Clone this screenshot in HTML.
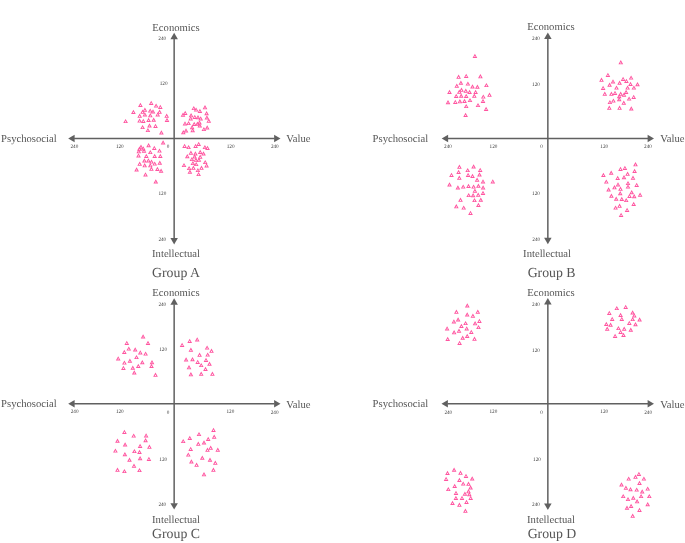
<!DOCTYPE html>
<html><head><meta charset="utf-8"><title>Groups</title>
<style>
html,body{margin:0;padding:0;background:#fff;}
svg{display:block;}
text{font-family:"Liberation Serif",serif;text-rendering:geometricPrecision;}
.l{font-size:10.65px;fill:#555555;}
.g{font-size:13.8px;fill:#555555;}
.t{font-size:5.2px;fill:#3a3a3a;}
</style></head><body>
<svg width="685" height="543" viewBox="0 0 685 543">
<defs><path id="t" d="M0,-2.3 L2.35,1.9 L-2.35,1.9 Z M0,-0.4 L0.76,0.98 L-0.76,0.98 Z" fill="#ff55a0" fill-rule="evenodd"/></defs>
<line x1="74.10000000000001" y1="138.4" x2="274.6" y2="138.4" stroke="#606060" stroke-width="1.5"/>
<line x1="174.15" y1="38.699999999999996" x2="174.15" y2="238.5" stroke="#606060" stroke-width="1.5"/>
<polygon points="68.2,138.4 74.60000000000001,134.65 74.60000000000001,142.15" fill="#606060"/>
<polygon points="280.5,138.4 274.1,134.65 274.1,142.15" fill="#606060"/>
<polygon points="174.15,32.8 170.4,39.199999999999996 177.9,39.199999999999996" fill="#606060"/>
<polygon points="174.15,244.4 170.4,238.0 177.9,238.0" fill="#606060"/>
<text class="l" x="176" y="30.8" text-anchor="middle">Economics</text>
<text class="l" x="176" y="257" text-anchor="middle">Intellectual</text>
<text class="g" x="176" y="277" text-anchor="middle">Group A</text>
<text class="l" x="1.1" y="142.4">Psychosocial</text>
<text class="l" x="286.3" y="142.4">Value</text>
<text class="t" x="74.4" y="147.6" text-anchor="middle">240</text>
<text class="t" x="119.8" y="147.5" text-anchor="middle">120</text>
<text class="t" x="168" y="147.5" text-anchor="middle">0</text>
<text class="t" x="230.6" y="147.5" text-anchor="middle">120</text>
<text class="t" x="274.8" y="147.6" text-anchor="middle">240</text>
<text class="t" x="162.2" y="40" text-anchor="middle">240</text>
<text class="t" x="163.6" y="85.0" text-anchor="middle">120</text>
<text class="t" x="162.4" y="194.7" text-anchor="middle">120</text>
<text class="t" x="162.3" y="240.6" text-anchor="middle">240</text>
<line x1="447.59999999999997" y1="138.4" x2="648.1" y2="138.4" stroke="#606060" stroke-width="1.5"/>
<line x1="547.85" y1="38.5" x2="547.85" y2="238.29999999999998" stroke="#606060" stroke-width="1.5"/>
<polygon points="441.7,138.4 448.09999999999997,134.65 448.09999999999997,142.15" fill="#606060"/>
<polygon points="654.0,138.4 647.6,134.65 647.6,142.15" fill="#606060"/>
<polygon points="547.85,32.6 544.1,39.0 551.6,39.0" fill="#606060"/>
<polygon points="547.85,244.2 544.1,237.79999999999998 551.6,237.79999999999998" fill="#606060"/>
<text class="l" x="550.9" y="30.4" text-anchor="middle">Economics</text>
<text class="l" x="547.05" y="256.9" text-anchor="middle">Intellectual</text>
<text class="g" x="551.6" y="276.8" text-anchor="middle">Group B</text>
<text class="l" x="372.6" y="142.4">Psychosocial</text>
<text class="l" x="660.3" y="142.4">Value</text>
<text class="t" x="448" y="147.6" text-anchor="middle">240</text>
<text class="t" x="493.5" y="147.5" text-anchor="middle">120</text>
<text class="t" x="541.5" y="147.5" text-anchor="middle">0</text>
<text class="t" x="604.2" y="147.5" text-anchor="middle">120</text>
<text class="t" x="648" y="147.6" text-anchor="middle">240</text>
<text class="t" x="536" y="40" text-anchor="middle">240</text>
<text class="t" x="536" y="85.5" text-anchor="middle">120</text>
<text class="t" x="536" y="194.7" text-anchor="middle">120</text>
<text class="t" x="536.2" y="240.7" text-anchor="middle">240</text>
<line x1="74.10000000000001" y1="403.82" x2="274.6" y2="403.82" stroke="#606060" stroke-width="1.5"/>
<line x1="174.15" y1="304.2" x2="174.15" y2="503.70000000000005" stroke="#606060" stroke-width="1.5"/>
<polygon points="68.2,403.82 74.60000000000001,400.07 74.60000000000001,407.57" fill="#606060"/>
<polygon points="280.5,403.82 274.1,400.07 274.1,407.57" fill="#606060"/>
<polygon points="174.15,298.3 170.4,304.7 177.9,304.7" fill="#606060"/>
<polygon points="174.15,509.6 170.4,503.20000000000005 177.9,503.20000000000005" fill="#606060"/>
<text class="l" x="176" y="296.2" text-anchor="middle">Economics</text>
<text class="l" x="176" y="523.4" text-anchor="middle">Intellectual</text>
<text class="g" x="176" y="538.2" text-anchor="middle">Group C</text>
<text class="l" x="1.1" y="406.6">Psychosocial</text>
<text class="l" x="286.3" y="407.7">Value</text>
<text class="t" x="74.6" y="413.4" text-anchor="middle">240</text>
<text class="t" x="119.8" y="412.8" text-anchor="middle">120</text>
<text class="t" x="168" y="413.7" text-anchor="middle">0</text>
<text class="t" x="230.4" y="412.8" text-anchor="middle">120</text>
<text class="t" x="274.6" y="413.8" text-anchor="middle">240</text>
<text class="t" x="162.3" y="305.8" text-anchor="middle">240</text>
<text class="t" x="163.1" y="351" text-anchor="middle">120</text>
<text class="t" x="163.2" y="460.5" text-anchor="middle">120</text>
<text class="t" x="162.3" y="505.9" text-anchor="middle">240</text>
<line x1="447.4" y1="403.82" x2="648.1" y2="403.82" stroke="#606060" stroke-width="1.5"/>
<line x1="547.85" y1="303.9" x2="547.85" y2="504.0" stroke="#606060" stroke-width="1.5"/>
<polygon points="441.5,403.82 447.9,400.07 447.9,407.57" fill="#606060"/>
<polygon points="654.0,403.82 647.6,400.07 647.6,407.57" fill="#606060"/>
<polygon points="547.85,298.0 544.1,304.4 551.6,304.4" fill="#606060"/>
<polygon points="547.85,509.9 544.1,503.5 551.6,503.5" fill="#606060"/>
<text class="l" x="551" y="296" text-anchor="middle">Economics</text>
<text class="l" x="551" y="523.4" text-anchor="middle">Intellectual</text>
<text class="g" x="552" y="538.3" text-anchor="middle">Group D</text>
<text class="l" x="372.6" y="406.6">Psychosocial</text>
<text class="l" x="660.3" y="407.7">Value</text>
<text class="t" x="448.3" y="413.7" text-anchor="middle">240</text>
<text class="t" x="493.4" y="412.8" text-anchor="middle">120</text>
<text class="t" x="541.5" y="413.7" text-anchor="middle">0</text>
<text class="t" x="604.2" y="412.8" text-anchor="middle">120</text>
<text class="t" x="648.1" y="413.8" text-anchor="middle">240</text>
<text class="t" x="536" y="305.8" text-anchor="middle">240</text>
<text class="t" x="536" y="352" text-anchor="middle">120</text>
<text class="t" x="537.0" y="461" text-anchor="middle">120</text>
<text class="t" x="536" y="506.2" text-anchor="middle">240</text>
<g>
<use href="#t" x="125.6" y="121.2"/>
<use href="#t" x="133.4" y="112.1"/>
<use href="#t" x="140.4" y="105.1"/>
<use href="#t" x="151.2" y="103.0"/>
<use href="#t" x="156.1" y="105.7"/>
<use href="#t" x="160.3" y="107.0"/>
<use href="#t" x="144.9" y="109.9"/>
<use href="#t" x="142.6" y="111.9"/>
<use href="#t" x="150.2" y="110.7"/>
<use href="#t" x="153.0" y="111.6"/>
<use href="#t" x="159.6" y="111.9"/>
<use href="#t" x="157.7" y="114.5"/>
<use href="#t" x="144.9" y="114.5"/>
<use href="#t" x="139.7" y="115.9"/>
<use href="#t" x="150.3" y="115.4"/>
<use href="#t" x="166.7" y="115.9"/>
<use href="#t" x="167.0" y="120.1"/>
<use href="#t" x="139.6" y="120.7"/>
<use href="#t" x="143.3" y="121.0"/>
<use href="#t" x="148.6" y="120.1"/>
<use href="#t" x="153.7" y="119.8"/>
<use href="#t" x="142.6" y="127.2"/>
<use href="#t" x="149.5" y="125.6"/>
<use href="#t" x="155.5" y="126.0"/>
<use href="#t" x="147.9" y="130.2"/>
<use href="#t" x="161.4" y="132.6"/>
<use href="#t" x="205.0" y="107.4"/>
<use href="#t" x="193.8" y="108.2"/>
<use href="#t" x="196.1" y="109.7"/>
<use href="#t" x="199.9" y="111.1"/>
<use href="#t" x="185.2" y="113.1"/>
<use href="#t" x="183.0" y="114.8"/>
<use href="#t" x="206.6" y="113.3"/>
<use href="#t" x="191.1" y="115.4"/>
<use href="#t" x="190.7" y="118.5"/>
<use href="#t" x="194.8" y="117.0"/>
<use href="#t" x="198.0" y="117.3"/>
<use href="#t" x="200.7" y="118.5"/>
<use href="#t" x="206.9" y="117.6"/>
<use href="#t" x="208.8" y="120.9"/>
<use href="#t" x="185.0" y="123.5"/>
<use href="#t" x="188.6" y="123.2"/>
<use href="#t" x="194.2" y="124.1"/>
<use href="#t" x="197.4" y="123.8"/>
<use href="#t" x="199.5" y="122.6"/>
<use href="#t" x="199.8" y="125.6"/>
<use href="#t" x="192.1" y="127.3"/>
<use href="#t" x="192.7" y="130.3"/>
<use href="#t" x="203.9" y="129.2"/>
<use href="#t" x="207.2" y="127.6"/>
<use href="#t" x="186.0" y="130.6"/>
<use href="#t" x="183.3" y="132.3"/>
<use href="#t" x="163.1" y="142.6"/>
<use href="#t" x="148.6" y="145.3"/>
<use href="#t" x="141.0" y="146.8"/>
<use href="#t" x="139.4" y="148.8"/>
<use href="#t" x="143.3" y="148.5"/>
<use href="#t" x="144.0" y="150.9"/>
<use href="#t" x="138.8" y="151.4"/>
<use href="#t" x="154.3" y="148.0"/>
<use href="#t" x="159.5" y="150.7"/>
<use href="#t" x="150.3" y="152.2"/>
<use href="#t" x="138.5" y="155.5"/>
<use href="#t" x="146.3" y="156.1"/>
<use href="#t" x="154.7" y="156.1"/>
<use href="#t" x="160.3" y="156.1"/>
<use href="#t" x="144.4" y="160.6"/>
<use href="#t" x="148.4" y="160.5"/>
<use href="#t" x="151.5" y="161.7"/>
<use href="#t" x="154.7" y="163.7"/>
<use href="#t" x="159.8" y="162.8"/>
<use href="#t" x="139.7" y="163.9"/>
<use href="#t" x="144.7" y="165.4"/>
<use href="#t" x="150.3" y="165.4"/>
<use href="#t" x="151.4" y="168.9"/>
<use href="#t" x="157.4" y="169.1"/>
<use href="#t" x="161.1" y="170.8"/>
<use href="#t" x="136.6" y="169.6"/>
<use href="#t" x="145.5" y="174.5"/>
<use href="#t" x="155.8" y="181.6"/>
<use href="#t" x="184.6" y="146.0"/>
<use href="#t" x="188.6" y="147.2"/>
<use href="#t" x="195.6" y="146.0"/>
<use href="#t" x="198.7" y="144.0"/>
<use href="#t" x="204.9" y="147.2"/>
<use href="#t" x="207.5" y="148.0"/>
<use href="#t" x="190.9" y="152.9"/>
<use href="#t" x="195.4" y="153.6"/>
<use href="#t" x="200.2" y="152.1"/>
<use href="#t" x="203.5" y="153.6"/>
<use href="#t" x="187.3" y="156.3"/>
<use href="#t" x="200.2" y="156.9"/>
<use href="#t" x="194.6" y="156.6"/>
<use href="#t" x="191.9" y="159.2"/>
<use href="#t" x="195.9" y="159.9"/>
<use href="#t" x="198.9" y="159.9"/>
<use href="#t" x="205.2" y="162.2"/>
<use href="#t" x="192.9" y="163.2"/>
<use href="#t" x="196.2" y="164.2"/>
<use href="#t" x="184.0" y="165.2"/>
<use href="#t" x="206.6" y="165.5"/>
<use href="#t" x="189.1" y="168.2"/>
<use href="#t" x="193.4" y="167.9"/>
<use href="#t" x="201.5" y="167.9"/>
<use href="#t" x="197.9" y="170.2"/>
<use href="#t" x="189.9" y="171.8"/>
<use href="#t" x="198.6" y="174.2"/>
<use href="#t" x="474.9" y="56.1"/>
<use href="#t" x="458.6" y="76.9"/>
<use href="#t" x="466.2" y="76.0"/>
<use href="#t" x="480.4" y="76.4"/>
<use href="#t" x="460.9" y="82.8"/>
<use href="#t" x="456.8" y="85.9"/>
<use href="#t" x="467.9" y="83.7"/>
<use href="#t" x="472.5" y="86.6"/>
<use href="#t" x="477.4" y="86.8"/>
<use href="#t" x="486.4" y="85.2"/>
<use href="#t" x="449.5" y="92.1"/>
<use href="#t" x="461.5" y="89.9"/>
<use href="#t" x="459.3" y="91.9"/>
<use href="#t" x="465.8" y="90.9"/>
<use href="#t" x="469.6" y="92.1"/>
<use href="#t" x="475.6" y="92.1"/>
<use href="#t" x="456.2" y="96.1"/>
<use href="#t" x="461.2" y="95.8"/>
<use href="#t" x="466.2" y="96.1"/>
<use href="#t" x="474.3" y="95.9"/>
<use href="#t" x="483.3" y="96.7"/>
<use href="#t" x="489.5" y="94.9"/>
<use href="#t" x="448.0" y="102.3"/>
<use href="#t" x="455.3" y="102.0"/>
<use href="#t" x="459.9" y="101.4"/>
<use href="#t" x="464.5" y="101.1"/>
<use href="#t" x="470.0" y="100.2"/>
<use href="#t" x="483.0" y="101.1"/>
<use href="#t" x="466.2" y="106.2"/>
<use href="#t" x="478.0" y="105.2"/>
<use href="#t" x="486.1" y="109.1"/>
<use href="#t" x="465.6" y="115.1"/>
<use href="#t" x="620.8" y="62.4"/>
<use href="#t" x="607.9" y="75.0"/>
<use href="#t" x="601.5" y="79.9"/>
<use href="#t" x="631.1" y="77.7"/>
<use href="#t" x="623.1" y="79.0"/>
<use href="#t" x="626.4" y="81.0"/>
<use href="#t" x="613.0" y="81.5"/>
<use href="#t" x="619.6" y="82.8"/>
<use href="#t" x="609.6" y="84.8"/>
<use href="#t" x="630.5" y="84.1"/>
<use href="#t" x="637.5" y="84.3"/>
<use href="#t" x="603.1" y="88.0"/>
<use href="#t" x="616.5" y="87.7"/>
<use href="#t" x="627.6" y="87.7"/>
<use href="#t" x="633.9" y="87.7"/>
<use href="#t" x="604.8" y="93.9"/>
<use href="#t" x="611.4" y="93.9"/>
<use href="#t" x="615.0" y="93.0"/>
<use href="#t" x="620.7" y="93.9"/>
<use href="#t" x="626.1" y="92.1"/>
<use href="#t" x="624.0" y="94.9"/>
<use href="#t" x="619.2" y="96.3"/>
<use href="#t" x="633.7" y="97.0"/>
<use href="#t" x="629.1" y="98.7"/>
<use href="#t" x="619.2" y="99.3"/>
<use href="#t" x="613.4" y="100.7"/>
<use href="#t" x="609.9" y="102.2"/>
<use href="#t" x="623.8" y="102.9"/>
<use href="#t" x="609.3" y="107.9"/>
<use href="#t" x="619.6" y="107.9"/>
<use href="#t" x="631.3" y="108.6"/>
<use href="#t" x="459.4" y="166.9"/>
<use href="#t" x="473.6" y="166.6"/>
<use href="#t" x="467.7" y="170.2"/>
<use href="#t" x="480.2" y="170.0"/>
<use href="#t" x="458.6" y="172.1"/>
<use href="#t" x="451.5" y="175.0"/>
<use href="#t" x="468.1" y="175.0"/>
<use href="#t" x="472.5" y="176.1"/>
<use href="#t" x="479.5" y="174.6"/>
<use href="#t" x="459.3" y="177.9"/>
<use href="#t" x="477.1" y="179.9"/>
<use href="#t" x="483.0" y="181.5"/>
<use href="#t" x="492.8" y="181.5"/>
<use href="#t" x="449.5" y="184.6"/>
<use href="#t" x="457.9" y="187.6"/>
<use href="#t" x="463.2" y="186.7"/>
<use href="#t" x="468.5" y="186.1"/>
<use href="#t" x="473.6" y="186.7"/>
<use href="#t" x="478.4" y="185.8"/>
<use href="#t" x="483.1" y="187.6"/>
<use href="#t" x="474.9" y="190.9"/>
<use href="#t" x="483.0" y="193.1"/>
<use href="#t" x="468.7" y="195.2"/>
<use href="#t" x="473.1" y="195.3"/>
<use href="#t" x="478.2" y="194.9"/>
<use href="#t" x="460.5" y="199.9"/>
<use href="#t" x="474.5" y="200.2"/>
<use href="#t" x="480.8" y="199.8"/>
<use href="#t" x="478.4" y="205.1"/>
<use href="#t" x="456.3" y="206.4"/>
<use href="#t" x="463.7" y="207.7"/>
<use href="#t" x="470.5" y="213.0"/>
<use href="#t" x="635.5" y="164.4"/>
<use href="#t" x="620.5" y="169.0"/>
<use href="#t" x="624.9" y="168.0"/>
<use href="#t" x="634.6" y="171.1"/>
<use href="#t" x="611.2" y="172.8"/>
<use href="#t" x="603.4" y="175.1"/>
<use href="#t" x="627.6" y="173.9"/>
<use href="#t" x="624.0" y="177.3"/>
<use href="#t" x="617.7" y="178.1"/>
<use href="#t" x="633.0" y="177.9"/>
<use href="#t" x="606.3" y="181.7"/>
<use href="#t" x="628.0" y="183.2"/>
<use href="#t" x="618.0" y="184.5"/>
<use href="#t" x="636.7" y="185.0"/>
<use href="#t" x="628.0" y="186.7"/>
<use href="#t" x="614.5" y="187.4"/>
<use href="#t" x="620.5" y="188.9"/>
<use href="#t" x="608.6" y="189.6"/>
<use href="#t" x="631.7" y="192.3"/>
<use href="#t" x="620.2" y="193.3"/>
<use href="#t" x="640.1" y="194.9"/>
<use href="#t" x="611.4" y="195.8"/>
<use href="#t" x="629.5" y="196.0"/>
<use href="#t" x="634.2" y="196.3"/>
<use href="#t" x="616.2" y="198.8"/>
<use href="#t" x="621.8" y="199.1"/>
<use href="#t" x="626.2" y="200.2"/>
<use href="#t" x="633.7" y="204.1"/>
<use href="#t" x="619.6" y="205.9"/>
<use href="#t" x="615.6" y="207.7"/>
<use href="#t" x="627.1" y="210.0"/>
<use href="#t" x="621.1" y="215.0"/>
<use href="#t" x="143.1" y="336.6"/>
<use href="#t" x="126.8" y="343.0"/>
<use href="#t" x="148.0" y="343.1"/>
<use href="#t" x="128.8" y="348.7"/>
<use href="#t" x="135.2" y="349.6"/>
<use href="#t" x="124.3" y="352.1"/>
<use href="#t" x="140.3" y="352.5"/>
<use href="#t" x="145.6" y="353.7"/>
<use href="#t" x="118.2" y="358.5"/>
<use href="#t" x="136.5" y="357.2"/>
<use href="#t" x="129.9" y="360.8"/>
<use href="#t" x="124.4" y="362.7"/>
<use href="#t" x="142.3" y="362.3"/>
<use href="#t" x="152.0" y="362.3"/>
<use href="#t" x="138.3" y="366.1"/>
<use href="#t" x="151.5" y="366.1"/>
<use href="#t" x="123.4" y="368.0"/>
<use href="#t" x="132.8" y="367.8"/>
<use href="#t" x="134.3" y="372.6"/>
<use href="#t" x="155.5" y="374.9"/>
<use href="#t" x="197.2" y="339.5"/>
<use href="#t" x="189.7" y="341.0"/>
<use href="#t" x="182.1" y="345.0"/>
<use href="#t" x="207.1" y="347.7"/>
<use href="#t" x="190.9" y="349.9"/>
<use href="#t" x="211.5" y="350.9"/>
<use href="#t" x="199.6" y="354.9"/>
<use href="#t" x="207.7" y="354.7"/>
<use href="#t" x="186.1" y="359.6"/>
<use href="#t" x="192.5" y="359.3"/>
<use href="#t" x="206.0" y="360.0"/>
<use href="#t" x="197.7" y="362.0"/>
<use href="#t" x="209.5" y="363.8"/>
<use href="#t" x="201.2" y="365.2"/>
<use href="#t" x="189.0" y="367.4"/>
<use href="#t" x="205.5" y="369.1"/>
<use href="#t" x="190.9" y="374.4"/>
<use href="#t" x="201.2" y="373.9"/>
<use href="#t" x="212.4" y="373.9"/>
<use href="#t" x="124.4" y="432.0"/>
<use href="#t" x="133.7" y="435.7"/>
<use href="#t" x="146.1" y="435.5"/>
<use href="#t" x="117.5" y="440.8"/>
<use href="#t" x="145.6" y="440.3"/>
<use href="#t" x="125.1" y="444.6"/>
<use href="#t" x="140.1" y="446.1"/>
<use href="#t" x="149.4" y="446.9"/>
<use href="#t" x="115.4" y="450.7"/>
<use href="#t" x="134.4" y="451.2"/>
<use href="#t" x="139.5" y="452.1"/>
<use href="#t" x="124.9" y="454.3"/>
<use href="#t" x="140.1" y="458.3"/>
<use href="#t" x="148.9" y="459.0"/>
<use href="#t" x="129.5" y="459.8"/>
<use href="#t" x="134.0" y="465.9"/>
<use href="#t" x="117.5" y="469.9"/>
<use href="#t" x="124.4" y="471.2"/>
<use href="#t" x="139.5" y="470.2"/>
<use href="#t" x="213.5" y="430.0"/>
<use href="#t" x="199.0" y="434.2"/>
<use href="#t" x="214.2" y="436.9"/>
<use href="#t" x="189.8" y="438.1"/>
<use href="#t" x="208.2" y="439.1"/>
<use href="#t" x="183.2" y="441.2"/>
<use href="#t" x="204.0" y="442.6"/>
<use href="#t" x="198.3" y="443.9"/>
<use href="#t" x="210.7" y="447.9"/>
<use href="#t" x="190.7" y="449.0"/>
<use href="#t" x="207.5" y="449.9"/>
<use href="#t" x="217.8" y="449.9"/>
<use href="#t" x="188.3" y="454.7"/>
<use href="#t" x="202.3" y="457.8"/>
<use href="#t" x="210.0" y="459.8"/>
<use href="#t" x="191.4" y="461.6"/>
<use href="#t" x="215.3" y="462.9"/>
<use href="#t" x="196.6" y="464.9"/>
<use href="#t" x="213.4" y="469.9"/>
<use href="#t" x="204.0" y="474.4"/>
<use href="#t" x="467.3" y="305.6"/>
<use href="#t" x="456.4" y="311.9"/>
<use href="#t" x="477.8" y="311.9"/>
<use href="#t" x="467.2" y="314.6"/>
<use href="#t" x="472.9" y="315.9"/>
<use href="#t" x="458.1" y="319.6"/>
<use href="#t" x="453.9" y="321.5"/>
<use href="#t" x="479.4" y="321.0"/>
<use href="#t" x="465.6" y="323.2"/>
<use href="#t" x="475.1" y="323.4"/>
<use href="#t" x="461.4" y="326.1"/>
<use href="#t" x="478.5" y="327.2"/>
<use href="#t" x="447.1" y="328.5"/>
<use href="#t" x="466.7" y="328.5"/>
<use href="#t" x="459.0" y="330.9"/>
<use href="#t" x="454.1" y="332.4"/>
<use href="#t" x="471.3" y="332.0"/>
<use href="#t" x="467.2" y="336.1"/>
<use href="#t" x="462.7" y="337.8"/>
<use href="#t" x="447.7" y="339.1"/>
<use href="#t" x="474.5" y="338.9"/>
<use href="#t" x="459.6" y="343.0"/>
<use href="#t" x="625.7" y="307.0"/>
<use href="#t" x="616.8" y="308.2"/>
<use href="#t" x="609.3" y="313.0"/>
<use href="#t" x="632.6" y="312.6"/>
<use href="#t" x="620.6" y="315.1"/>
<use href="#t" x="634.3" y="315.5"/>
<use href="#t" x="612.2" y="319.0"/>
<use href="#t" x="621.8" y="319.0"/>
<use href="#t" x="632.7" y="319.2"/>
<use href="#t" x="639.6" y="319.6"/>
<use href="#t" x="629.3" y="323.0"/>
<use href="#t" x="606.3" y="324.1"/>
<use href="#t" x="610.6" y="324.8"/>
<use href="#t" x="635.5" y="324.3"/>
<use href="#t" x="607.2" y="328.9"/>
<use href="#t" x="618.4" y="328.2"/>
<use href="#t" x="624.2" y="328.9"/>
<use href="#t" x="630.8" y="329.8"/>
<use href="#t" x="620.6" y="332.0"/>
<use href="#t" x="623.5" y="335.1"/>
<use href="#t" x="615.1" y="336.0"/>
<use href="#t" x="454.1" y="469.8"/>
<use href="#t" x="447.5" y="473.1"/>
<use href="#t" x="460.5" y="472.9"/>
<use href="#t" x="466.0" y="476.0"/>
<use href="#t" x="446.1" y="479.0"/>
<use href="#t" x="472.2" y="478.6"/>
<use href="#t" x="459.4" y="480.1"/>
<use href="#t" x="463.2" y="483.7"/>
<use href="#t" x="468.5" y="483.9"/>
<use href="#t" x="454.7" y="486.1"/>
<use href="#t" x="470.6" y="487.6"/>
<use href="#t" x="448.3" y="489.2"/>
<use href="#t" x="468.5" y="491.4"/>
<use href="#t" x="456.0" y="493.0"/>
<use href="#t" x="464.9" y="493.8"/>
<use href="#t" x="469.3" y="494.3"/>
<use href="#t" x="455.9" y="498.1"/>
<use href="#t" x="462.0" y="498.0"/>
<use href="#t" x="470.7" y="498.0"/>
<use href="#t" x="466.5" y="502.0"/>
<use href="#t" x="452.5" y="503.1"/>
<use href="#t" x="459.4" y="504.9"/>
<use href="#t" x="465.4" y="510.9"/>
<use href="#t" x="638.9" y="474.0"/>
<use href="#t" x="635.5" y="476.9"/>
<use href="#t" x="628.7" y="478.7"/>
<use href="#t" x="643.9" y="478.7"/>
<use href="#t" x="639.5" y="483.1"/>
<use href="#t" x="621.5" y="484.6"/>
<use href="#t" x="625.9" y="487.9"/>
<use href="#t" x="630.5" y="489.3"/>
<use href="#t" x="636.7" y="489.7"/>
<use href="#t" x="647.7" y="488.7"/>
<use href="#t" x="642.2" y="491.6"/>
<use href="#t" x="623.2" y="496.2"/>
<use href="#t" x="641.1" y="496.2"/>
<use href="#t" x="649.3" y="496.2"/>
<use href="#t" x="633.3" y="497.8"/>
<use href="#t" x="628.0" y="499.2"/>
<use href="#t" x="637.1" y="501.4"/>
<use href="#t" x="647.7" y="504.3"/>
<use href="#t" x="631.1" y="506.1"/>
<use href="#t" x="627.0" y="507.8"/>
<use href="#t" x="639.5" y="510.0"/>
<use href="#t" x="632.7" y="515.9"/>
</g>
</svg>
</body></html>
